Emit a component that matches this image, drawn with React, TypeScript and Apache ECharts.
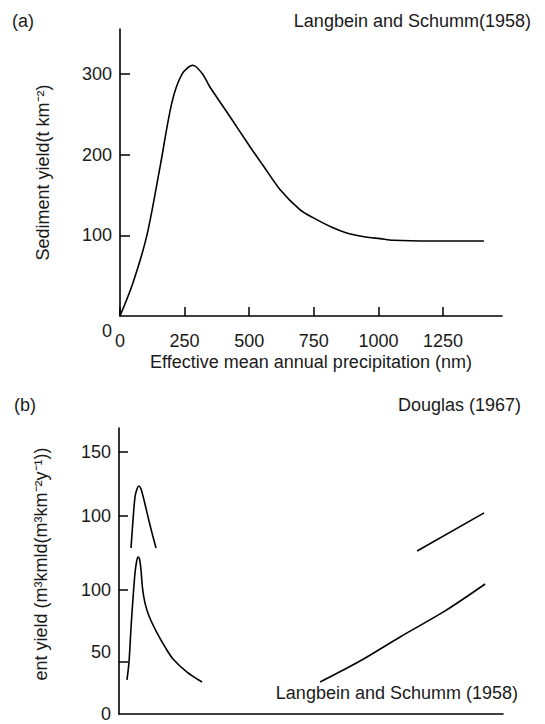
import React, { useEffect, useRef } from "react";
import * as echarts from "echarts";

// ---------- Panel (a): Langbein and Schumm (1958) ----------
const precipA = [0, 50, 104, 155, 201, 240, 282, 320, 348, 420, 503, 553, 619, 696, 747, 820, 877, 950, 1006, 1057, 1200, 1408];
const yieldA = [0, 41, 100, 185, 265, 300, 311, 300, 284, 250, 210, 187, 157, 132, 122, 110, 103, 98, 96, 94, 93, 93];
const xTicksA = [0, 250, 500, 750, 1000, 1250];
const yTicksA = [100, 200, 300];

// ---------- Panel (b) ----------
// axis units of panel (b) (tick positions as they appear in the figure)
const yTickPosB = [29.8, 71, 113.4, 150];
const yLabelPosB = [0, 35.5, 71, 113.4, 150];
const yLabelTextB = ["0", "50", "100", "100", "150"];

const douglasHumpX = [46.4, 54.2, 61.9, 69.6, 77.4, 85.1, 96.7, 112.2, 127.7, 143.1];
const douglasHumpY = [95.0, 111.1, 124.2, 128.8, 130.5, 128.8, 122.5, 112.8, 103.6, 95.0];
const douglasRiseX = [1152.8, 1412];
const douglasRiseY = [93.3, 115.1];

const lsHumpX = [30.9, 38.7, 46.4, 54.2, 61.9, 67.7, 73.5, 79.3, 85.1, 90.9, 100.6, 116.1, 147.0, 177.9, 208.9, 263.1, 321.1];
const lsHumpY = [19.5, 29.8, 49.2, 66.4, 80.7, 87.0, 89.9, 88.7, 82.4, 72.1, 63.5, 56.1, 46.4, 38.4, 31.5, 24.0, 18.3];
const lsRiseX = [777.6, 932, 1087, 1261, 1415.9];
const lsRiseY = [18.3, 30.3, 44.1, 59.0, 74.4];

const zip = (xs: number[], ys: number[]) => xs.map((x, i) => [x, ys[i]]);

const INK = "#1a1a1a";
const FONT = "Liberation Sans, Arial, Helvetica, sans-serif";
const FS = 18;

export default function App() {
  const ref = useRef<HTMLDivElement>(null);
  useEffect(() => {
    if (!ref.current) return;
    const chart = echarts.init(ref.current, undefined, { renderer: "svg" });
    const lineStyle = { color: "#000", width: 1.6 };
    const axisLine = { show: true, lineStyle: { color: "#000", width: 1.6 } };
    const baseSeries = {
      type: "line" as const,
      showSymbol: false,
      symbol: "none",
      lineStyle,
      smooth: 0.3,
      silent: true,
    };
    const text = (t: string, x: number, y: number, align: string, extra: any = {}) => ({
      type: "text",
      x,
      y,
      ...extra,
      style: {
        text: t,
        fill: INK,
        font: `${FS}px ${FONT}`,
        align,
        verticalAlign: "middle",
      },
    });
    chart.setOption({
      animation: false,
      backgroundColor: "#fff",
      grid: [
        { left: 120, top: 29, width: 382, height: 287, outerBoundsMode: "none" },
        { left: 119, top: 428, width: 384, height: 286, outerBoundsMode: "none" },
      ],
      xAxis: [
        {
          gridIndex: 0,
          type: "value",
          min: 0,
          max: 1478,
          axisLine,
          splitLine: { show: false },
          axisTick: {
            show: true,
            inside: true,
            length: 9,
            customValues: xTicksA,
            lineStyle: { color: "#000", width: 1.5 },
          },
          axisLabel: {
            customValues: xTicksA,
            margin: 16,
            color: INK,
            fontSize: FS,
            fontFamily: FONT,
            formatter: (v: number) => String(v),
          },
          name: "Effective mean annual precipitation (nm)",
          nameLocation: "middle",
          nameGap: 37,
          nameTextStyle: { color: INK, fontSize: FS, fontFamily: FONT },
        },
        {
          gridIndex: 1,
          type: "value",
          min: 0,
          max: 1485,
          axisLine,
          splitLine: { show: false },
          axisTick: { show: false },
          axisLabel: { show: false },
        },
      ],
      yAxis: [
        {
          gridIndex: 0,
          type: "value",
          min: 0,
          max: 356,
          axisLine,
          splitLine: { show: false },
          axisTick: {
            show: true,
            inside: true,
            length: 10,
            customValues: yTicksA,
            lineStyle: { color: "#000", width: 1.5 },
          },
          axisLabel: {
            customValues: yTicksA,
            margin: 8,
            color: INK,
            fontSize: FS,
            fontFamily: FONT,
            formatter: (v: number) => String(v),
          },
          name: "Sediment yield(t km⁻²)",
          nameLocation: "middle",
          nameGap: 68,
          nameRotate: 90,
          nameTextStyle: { color: INK, fontSize: FS, fontFamily: FONT },
        },
        {
          gridIndex: 1,
          type: "value",
          min: 0,
          max: 163.7,
          axisLine,
          splitLine: { show: false },
          axisTick: {
            show: true,
            inside: true,
            length: 9,
            customValues: yTickPosB,
            lineStyle: { color: "#000", width: 1.5 },
          },
          axisLabel: {
            customValues: yLabelPosB,
            margin: 8,
            color: INK,
            fontSize: FS,
            fontFamily: FONT,
            formatter: (v: number) => {
              let best = 0;
              yLabelPosB.forEach((p, i) => {
                if (Math.abs(p - v) < Math.abs(yLabelPosB[best] - v)) best = i;
              });
              return yLabelTextB[best];
            },
          },
        },
      ],
      series: [
        { ...baseSeries, name: "Langbein and Schumm (1958) a", xAxisIndex: 0, yAxisIndex: 0, data: zip(precipA, yieldA) },
        { ...baseSeries, name: "Douglas hump", xAxisIndex: 1, yAxisIndex: 1, data: zip(douglasHumpX, douglasHumpY) },
        { ...baseSeries, name: "Douglas rise", xAxisIndex: 1, yAxisIndex: 1, smooth: false, data: zip(douglasRiseX, douglasRiseY) },
        { ...baseSeries, name: "LS hump", xAxisIndex: 1, yAxisIndex: 1, data: zip(lsHumpX, lsHumpY) },
        { ...baseSeries, name: "LS rise", xAxisIndex: 1, yAxisIndex: 1, data: zip(lsRiseX, lsRiseY) },
      ],
      graphic: [
        text("(a)", 12, 21, "left"),
        text("Langbein and Schumm(1958)", 531, 21, "right"),
        text("0", 107, 331, "center"),
        text("(b)", 14, 405, "left"),
        text("Douglas (1967)", 521, 405, "right"),
        text("Langbein and Schumm (1958)", 518, 693, "right"),
        text("ent yield (m³kmld(m³km⁻²y⁻¹))", 41, 564, "center", { rotation: Math.PI / 2 }),
      ],
    });
    return () => chart.dispose();
  }, []);
  return (
    <div
      ref={ref}
      style={{ position: "fixed", left: 0, top: 0, width: 545, height: 724, background: "#fff" }}
    />
  );
}
